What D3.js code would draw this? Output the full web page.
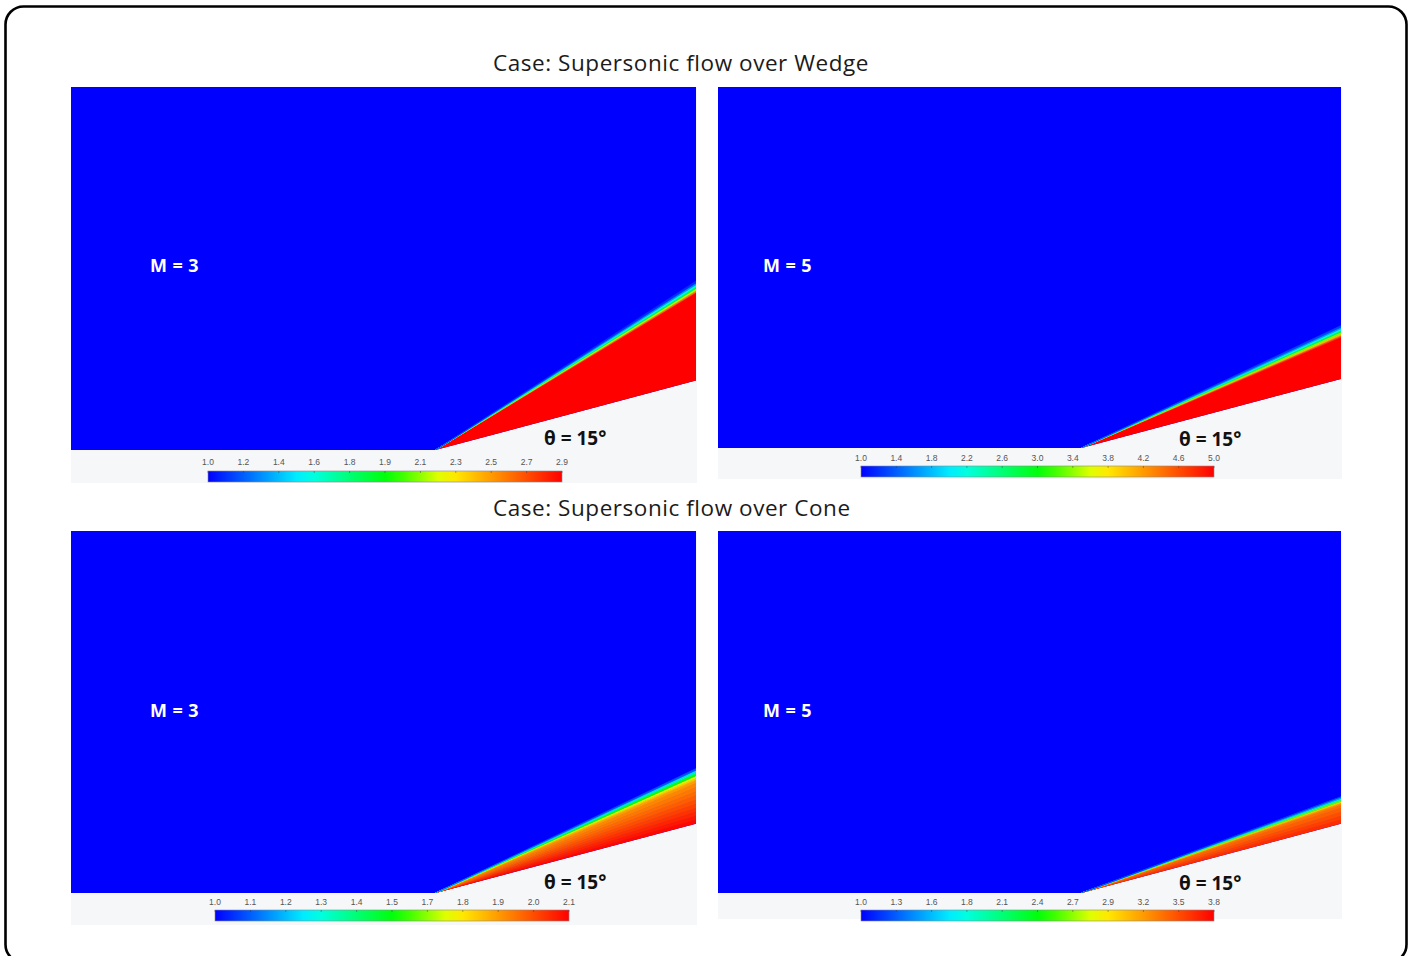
<!DOCTYPE html>
<html>
<head>
<meta charset="utf-8">
<script src="https://cdn.jsdelivr.net/npm/d3@7"></script>
<style>
  body { margin: 0; background: #ffffff; }
  svg { display: block; }
</style>
</head>
<body>
<svg id="chart" width="1414" height="956"></svg>
<script>
// ---- Data -------------------------------------------------------------
const caseTitles = ["Case: Supersonic flow over Wedge", "Case: Supersonic flow over Cone"];
const machLabels = ["M = 3", "M = 5", "M = 3", "M = 5"];
const bodyAngleDeg = [15, 15, 15, 15];
const angleLabel = "θ = 15°";

// Colour-bar tick labels for each contour plot
const ticksWedgeM3 = ["1.0", "1.2", "1.4", "1.6", "1.8", "1.9", "2.1", "2.3", "2.5", "2.7", "2.9"];
const ticksWedgeM5 = ["1.0", "1.4", "1.8", "2.2", "2.6", "3.0", "3.4", "3.8", "4.2", "4.6", "5.0"];
const ticksConeM3  = ["1.0", "1.1", "1.2", "1.3", "1.4", "1.5", "1.7", "1.8", "1.9", "2.0", "2.1"];
const ticksConeM5  = ["1.0", "1.3", "1.6", "1.8", "2.1", "2.4", "2.7", "2.9", "3.2", "3.5", "3.8"];

// Contour ranges (free stream value .. maximum)
const rangeWedgeM3 = [1.0, 2.9];
const rangeWedgeM5 = [1.0, 5.0];
const rangeConeM3  = [1.0, 2.1];
const rangeConeM5  = [1.0, 3.8];

// Field behind the shock: sector edges (deg, measured from the apex) and the value inside each sector
const edgesWedgeM3  = [15, 31.3, 31.6, 31.9, 32.2, 32.5, 32.8, 33.1];
const valuesWedgeM3 = [2.9, 2.6, 2.2, 1.85, 1.55, 1.3, 1.1];

const edgesWedgeM5  = [15, 23.3, 23.6, 23.9, 24.2, 24.5, 24.8, 25.1, 25.4];
const valuesWedgeM5 = [5.0, 4.6, 4.0, 3.4, 2.8, 2.2, 1.7, 1.3];

const edgesConeM3  = [15, 15.8, 16.6, 17.4, 18.2, 19.0, 19.8, 20.6, 21.4, 22.2, 23.0, 23.6, 24.0, 24.4, 24.8, 25.1, 25.4, 25.7];
const valuesConeM3 = [2.09, 2.07, 2.05, 2.03, 2.01, 1.99, 1.97, 1.95, 1.93, 1.91, 1.88, 1.82, 1.72, 1.57, 1.42, 1.26, 1.1];

const edgesConeM5  = [15, 15.8, 16.6, 17.4, 18.2, 18.8, 19.2, 19.5, 19.8, 20.1, 20.4];
const valuesConeM5 = [3.64, 3.58, 3.52, 3.46, 3.4, 3.3, 3.05, 2.6, 2.0, 1.45, 1.15];

// ---- Layout -----------------------------------------------------------
const panels = [
  { x0: 71,  x1: 696,  yTop: 87,  yBase: 450, bgBottom: 483, barX0: 208, barX1: 562,  barY: 471, labY: 465, mX: 150, mY: 272, thX: 544,  thY: 445,
    ticks: ticksWedgeM3, range: rangeWedgeM3, edges: edgesWedgeM3, values: valuesWedgeM3 },
  { x0: 718, x1: 1341, yTop: 87,  yBase: 448, bgBottom: 479, barX0: 861, barX1: 1214, barY: 466, labY: 461, mX: 763, mY: 272, thX: 1179, thY: 446,
    ticks: ticksWedgeM5, range: rangeWedgeM5, edges: edgesWedgeM5, values: valuesWedgeM5 },
  { x0: 71,  x1: 696,  yTop: 531, yBase: 893, bgBottom: 925, barX0: 215, barX1: 569,  barY: 910, labY: 905, mX: 150, mY: 717, thX: 544,  thY: 889,
    ticks: ticksConeM3, range: rangeConeM3, edges: edgesConeM3, values: valuesConeM3 },
  { x0: 718, x1: 1341, yTop: 531, yBase: 893, bgBottom: 919, barX0: 861, barX1: 1214, barY: 910, labY: 905, mX: 763, mY: 717, thX: 1179, thY: 890,
    ticks: ticksConeM5, range: rangeConeM5, edges: edgesConeM5, values: valuesConeM5 }
];

// Physical extent of each computational domain (apex at the origin)
const domainX = [-1.4, 1.0];
const domainY = [0, 1.4];

// Rainbow contour map: blue - cyan - green - yellow - red
const cmapPos = [0, 0.27, 0.51, 0.67, 1];
const cmapCol = ["#0000ff", "#00ffff", "#00ff00", "#ffff00", "#ff0000"];
const cmap = d3.scaleLinear().domain(cmapPos).range(cmapCol).interpolate(d3.interpolateRgb).clamp(true);

const svg = d3.select("#chart");
const defs = svg.append("defs");
const FONT = "'Open Sans', 'Noto Sans', sans-serif";

// Outer frame
svg.append("rect")
  .attr("x", 5.5).attr("y", 6.5)
  .attr("width", 1401).attr("height", 956)
  .attr("rx", 18).attr("ry", 18)
  .attr("fill", "#ffffff").attr("stroke", "#000").attr("stroke-width", 2.6);

// Case titles
const titleY = [71, 516];
caseTitles.forEach((t, i) => {
  svg.append("text")
    .attr("x", 493).attr("y", titleY[i])
    .attr("font-family", FONT).attr("font-size", 22.5)
    .attr("letter-spacing", 0.55)
    .attr("fill", "#1b1b1b").text(t);
});

// Colour-bar gradient (shared)
const grad = defs.append("linearGradient").attr("id", "rainbow")
  .attr("x1", "0%").attr("x2", "100%").attr("y1", "0%").attr("y2", "0%");
d3.range(0, 1.0001, 0.05).forEach(t => {
  grad.append("stop").attr("offset", (t * 100) + "%").attr("stop-color", cmap(t));
});

panels.forEach((p, i) => {
  const g = svg.append("g");
  const x = d3.scaleLinear().domain(domainX).range([p.x0, p.x1]);
  const y = d3.scaleLinear().domain(domainY).range([p.yBase, p.yTop]);
  const norm = d3.scaleLinear().domain(p.range).range([0, 1]);
  const color = v => cmap(norm(v));
  const th = bodyAngleDeg[i] * Math.PI / 180;

  // light background of the plot window
  g.append("rect")
    .attr("x", p.x0).attr("y", p.yTop)
    .attr("width", p.x1 - p.x0 + 1).attr("height", p.bgBottom - p.yTop)
    .attr("fill", "#f6f7f9");

  // flow domain: everything above the floor and the body surface
  const domainPts = [
    [domainX[0], 0], [0, 0], [domainX[1], domainX[1] * Math.tan(th)],
    [domainX[1], domainY[1]], [domainX[0], domainY[1]]
  ];
  const clipId = "clip" + i;
  defs.append("clipPath").attr("id", clipId)
    .append("polygon")
    .attr("points", domainPts.map(d => [x(d[0]), y(d[1])].join(",")).join(" "));

  const field = g.append("g").attr("clip-path", `url(#${clipId})`);
  field.append("rect")
    .attr("x", p.x0).attr("y", p.yTop)
    .attr("width", p.x1 - p.x0).attr("height", p.yBase - p.yTop)
    .attr("fill", color(p.range[0]));

  // angular sectors behind / across the shock
  const R = 3;
  const sectors = p.values.map((v, k) => ({ a0: p.edges[k], a1: p.edges[k + 1], v }));
  field.selectAll("polygon.sector").data(sectors).join("polygon")
    .attr("class", "sector")
    .attr("points", d => {
      const r0 = d.a0 * Math.PI / 180, r1 = d.a1 * Math.PI / 180;
      return [[0, 0], [R * Math.cos(r0), R * Math.sin(r0)], [R * Math.cos(r1), R * Math.sin(r1)]]
        .map(q => [x(q[0]), y(q[1])].join(",")).join(" ");
    })
    .attr("fill", d => color(d.v))
    .attr("stroke", d => color(d.v))
    .attr("stroke-width", 0.6)
    .attr("stroke-linejoin", "round");

  // Mach label
  g.append("text")
    .attr("x", p.mX).attr("y", p.mY)
    .attr("font-family", FONT).attr("font-weight", "bold").attr("font-size", 18)
    .attr("letter-spacing", 0.4)
    .attr("fill", "#ffffff").text(machLabels[i]);

  // body angle label
  g.append("text")
    .attr("x", p.thX).attr("y", p.thY)
    .attr("font-family", FONT).attr("font-weight", "bold").attr("font-size", 19)
    .attr("fill", "#111").text(angleLabel);

  // colour bar
  const barH = 11;
  g.append("rect")
    .attr("x", p.barX0).attr("y", p.barY)
    .attr("width", p.barX1 - p.barX0).attr("height", barH)
    .attr("fill", "url(#rainbow)")
    .attr("stroke", "#8a8a8a").attr("stroke-width", 0.6);

  const tx = d3.scalePoint().domain(p.ticks.map((t, k) => k)).range([p.barX0, p.barX1]);
  g.selectAll("line.tk").data(p.ticks).join("line")
    .attr("class", "tk")
    .attr("x1", (d, k) => tx(k)).attr("x2", (d, k) => tx(k))
    .attr("y1", p.barY).attr("y2", p.barY + 2)
    .attr("stroke", "#333").attr("stroke-opacity", 0.5).attr("stroke-width", 0.8);
  g.selectAll("text.tl").data(p.ticks).join("text")
    .attr("class", "tl")
    .attr("x", (d, k) => tx(k)).attr("y", p.labY)
    .attr("text-anchor", "middle")
    .attr("font-family", "'Liberation Sans', sans-serif").attr("font-size", 8.5)
    .attr("fill", "#555").text(d => d);
});
</script>
</body>
</html>
